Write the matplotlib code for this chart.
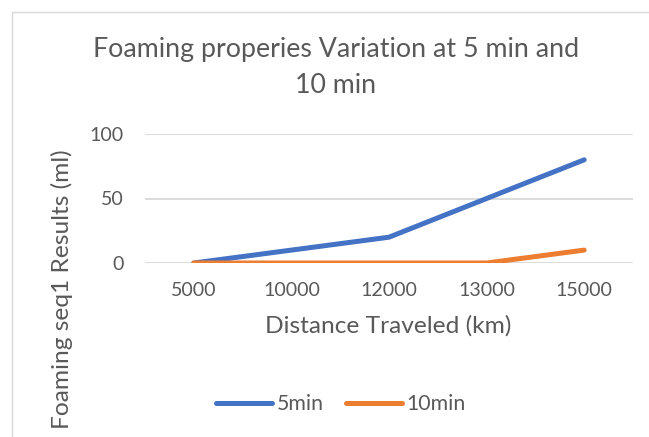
import matplotlib
matplotlib.use("Agg")
import matplotlib.pyplot as plt
from matplotlib.lines import Line2D
from matplotlib.patches import Rectangle

# ---- data ----
categories = ["5000", "10000", "12000", "13000", "15000"]
series_5min = [0, 10, 20, 50, 80]
series_10min = [0, 0, 0, 0, 10]
series_names = ["5min", "10min"]
yticks = [0, 50, 100]
title_lines = ["Foaming properies Variation at 5 min and", "10 min"]
xlabel = "Distance Traveled (km)"
ylabel = "Foaming seq1 Results (ml)"

BLUE = "#4472C4"
ORANGE = "#ED7D31"
TXT = "#595959"
GRID = "#D9D9D9"
FONT = "Lato"

W, H = 649, 437
DPI = 100
fig = plt.figure(figsize=(W / DPI, H / DPI), dpi=DPI)
fig.patch.set_facecolor("white")
renderer = fig.canvas.get_renderer()


def px(x, y):
    """pixel (from top-left) -> figure fraction"""
    return x / W, 1 - y / H


def fit_size(s, target_w, base=14):
    t = fig.text(0, 0, s, fontsize=base, family=FONT)
    w = t.get_window_extent(renderer).width
    t.remove()
    return base * target_w / w


# chart frame (cropped at right/bottom)
x0, y0 = px(12, 12)
fig.patches.append(Rectangle((x0, -0.5), 2, y0 + 0.5, transform=fig.transFigure,
                             fill=False, edgecolor=GRID, lw=1.0, clip_on=False))

# axes: plot area from x=145..633, y=134..263
ax_l, ax_r, ax_t, ax_b = 145, 633, 134, 263
ax = fig.add_axes([ax_l / W, 1 - ax_b / H, (ax_r - ax_l) / W, (ax_b - ax_t) / H])
xs = list(range(len(categories)))
lw = 3.6
ax.plot(xs, series_5min, color=BLUE, lw=lw, solid_capstyle="round", solid_joinstyle="round", zorder=3)
ax.plot(xs, series_10min, color=ORANGE, lw=lw, solid_capstyle="round", solid_joinstyle="round", zorder=3)
ax.set_xlim(-0.5, len(categories) - 0.5)
ax.set_ylim(0, 100)
ax.set_yticks(yticks)
ax.set_xticks(xs)
ax.set_xticklabels(categories)
for s in ax.spines.values():
    s.set_visible(False)
ax.set_facecolor("none")
for yv in yticks:
    ax.axhline(yv, color=GRID, lw=1.3, zorder=1)

tick_fs = fit_size("5000", 46)
ax.tick_params(axis="both", length=0, labelsize=tick_fs, labelcolor=TXT)
ax.tick_params(axis="y", pad=15.5)
ax.tick_params(axis="x", pad=14)
for lab in ax.get_xticklabels() + ax.get_yticklabels():
    lab.set_family(FONT)

# title
title_fs = fit_size(title_lines[0], 488)
fig.text(*px(336, 57), title_lines[0], ha="center", va="baseline", fontsize=title_fs,
         color=TXT, family=FONT)
fig.text(*px(336, 93), title_lines[1], ha="center", va="baseline", fontsize=title_fs,
         color=TXT, family=FONT)

# axis titles
axl_fs = fit_size(xlabel, 247)
fig.text(*px(388, 333), xlabel, ha="center", va="baseline", fontsize=axl_fs,
         color=TXT, family=FONT)
fig.text(*px(62, 289), ylabel, ha="center", va="center", rotation=90,
         fontsize=axl_fs, color=TXT, family=FONT)

# legend
leg_fs = fit_size("5min", 47)
handles = [Line2D([0], [0], color=BLUE, lw=lw, solid_capstyle="round"),
           Line2D([0], [0], color=ORANGE, lw=lw, solid_capstyle="round")]
em_px = leg_fs * DPI / 72
leg = fig.legend(handles, series_names, loc="center", bbox_to_anchor=px(341, 404),
                 ncol=2, frameon=False, fontsize=leg_fs,
                 handlelength=56 / em_px, handletextpad=4 / em_px,
                 columnspacing=23 / em_px, borderpad=0)
for t in leg.get_texts():
    t.set_color(TXT)
    t.set_family(FONT)

fig.savefig("out.png", dpi=DPI)
